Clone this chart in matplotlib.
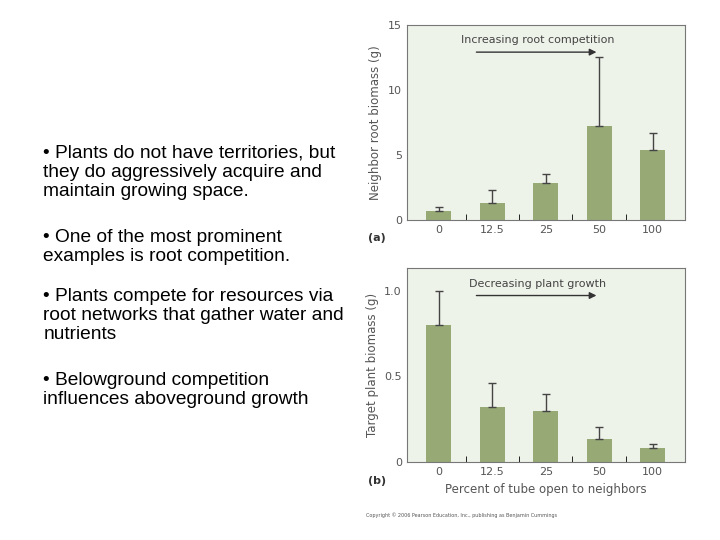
import numpy as np
import matplotlib.pyplot as plt

# Data
categories = ["0", "12.5", "25", "50", "100"]
root_mass = [0.7, 1.3, 2.8, 7.2, 5.4]
root_err = [0.3, 1.0, 0.7, 5.3, 1.3]
plant_mass = [0.80, 0.32, 0.30, 0.135, 0.085]
plant_err = [0.20, 0.14, 0.10, 0.07, 0.02]

bullets = [
    "• Plants do not have territories, but\nthey do aggressively acquire and\nmaintain growing space.",
    "• One of the most prominent\nexamples is root competition.",
    "• Plants compete for resources via\nroot networks that gather water and\nnutrients",
    "• Belowground competition\ninfluences aboveground growth",
]
bullet_y = [0.732, 0.576, 0.467, 0.311]

bar_color = "#97aa76"
bg = "#eef3ea"
grey = "#555555"

fig = plt.figure(figsize=(7.2, 5.4), dpi=100)

for txt, y in zip(bullets, bullet_y):
    fig.text(0.06, y, txt, fontsize=13.8, family="Liberation Sans", va="top", linespacing=1.17)

def panel(rect, vals, errs, ylim, yticks, yticklabels, ylabel, note, letter, xlabel=None):
    ax = fig.add_axes(rect)
    x = np.arange(len(categories))
    ax.bar(x, vals, width=0.47, color=bar_color)
    ax.errorbar(x, vals, yerr=[np.zeros(len(errs)), errs], fmt="none",
                ecolor="#444444", elinewidth=1, capsize=3)
    ax.set_facecolor(bg)
    ax.set_xlim(-0.6, 4.6)
    ax.set_ylim(*ylim)
    ax.set_xticks(x)
    ax.set_xticklabels(categories)
    ax.set_xticks(x[:-1] + 0.5, minor=True)
    ax.tick_params(axis="x", which="major", length=0, labelsize=8, colors=grey)
    ax.tick_params(axis="x", which="minor", length=4, direction="in")
    ax.set_yticks(yticks)
    ax.set_yticklabels(yticklabels)
    ax.tick_params(axis="y", length=0, labelsize=8, colors=grey)
    ax.set_ylabel(ylabel, fontsize=8.5, color=grey)
    for s in ax.spines.values():
        s.set_color("#777777")
    ax.annotate("", xy=(3.0, ylim[1] * 0.86), xytext=(0.65, ylim[1] * 0.86),
                arrowprops=dict(arrowstyle="-|>", color="#333333", lw=1))
    ax.text(1.85, ylim[1] * 0.895, note, ha="center", va="bottom", fontsize=8, color="#444444")
    ax.text(-0.14, -0.11, letter, transform=ax.transAxes, fontsize=8, weight="bold", color="#333333")
    if xlabel:
        ax.set_xlabel(xlabel, fontsize=8.5, color=grey)
    return ax

panel([0.565, 0.593, 0.386, 0.361], root_mass, root_err, (0, 15), [0, 5, 10, 15],
      ["0", "5", "10", "15"], "Neighbor root biomass (g)", "Increasing root competition", "(a)")
panel([0.565, 0.144, 0.386, 0.359], plant_mass, plant_err, (0, 1.13), [0, 0.5, 1.0],
      ["0", "0.5", "1.0"], "Target plant biomass (g)", "Decreasing plant growth", "(b)",
      xlabel="Percent of tube open to neighbors")

fig.text(0.508, 0.043, "Copyright © 2006 Pearson Education, Inc., publishing as Benjamin Cummings",
         fontsize=3.5, color="#555555")

fig.savefig("out.png", dpi=100)
